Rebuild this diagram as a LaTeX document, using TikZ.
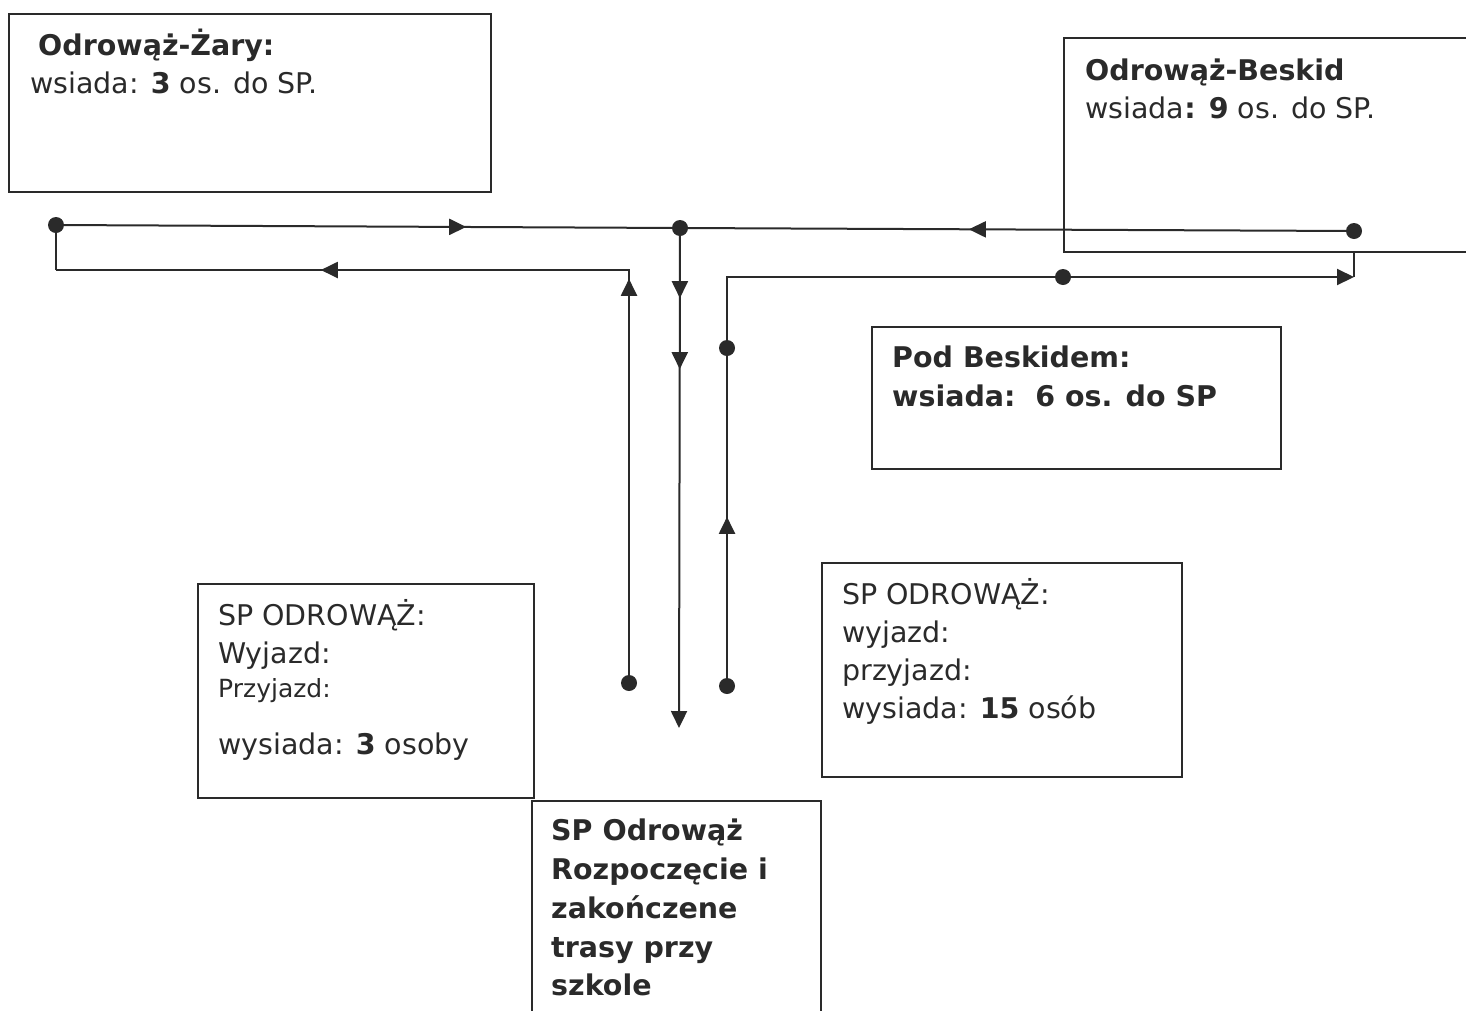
\documentclass[tikz,border=0pt]{standalone}
\usepackage{fontspec}
\setmainfont{DejaVu Sans}
\usetikzlibrary{arrows.meta,decorations.markings,calc}
\definecolor{ink}{HTML}{2A2A2A}
\tikzset{
  box/.style={draw=ink, line width=1.6pt, rectangle, inner sep=0pt, anchor=north west},
  txt/.style={anchor=base west, inner sep=0pt, text=ink, font=\fontsize{28.5}{34}\selectfont},
  smalltxt/.style={txt, font=\fontsize{25}{30}\selectfont},
  dot/.style={circle, fill=ink, inner sep=0pt, minimum size=16pt},
  route/.style={draw=ink, line width=2pt},
  tri/.tip={Triangle[length=17pt,width=16pt]},
  arrowat/.style={postaction={decorate}, decoration={markings, mark=at position #1 with {\arrow{tri}}}},
  arrowsat/.style 2 args={postaction={decorate}, decoration={markings, mark=at position #1 with {\arrow{tri}}, mark=at position #2 with {\arrow{tri}}}}
}
\begin{document}
\begin{tikzpicture}[x=1pt,y=-1pt]
\useasboundingbox (0,0) rectangle (1466,1010);
\clip (0,0) rectangle (1466,1010);

% boxes
\node[box, minimum width=482pt, minimum height=178pt] (zary) at (8,13) {};
\node[box, minimum width=420pt, minimum height=214pt] (beskid) at (1063,37) {};
\node[box, minimum width=409pt, minimum height=142pt] (pod) at (871,326) {};
\node[box, minimum width=336pt, minimum height=214pt] (spl) at (197,583) {};
\node[box, minimum width=360pt, minimum height=214pt] (spr) at (821,562) {};
\node[box, minimum width=289pt, minimum height=240pt] (szk) at (531,800) {};

% texts
\node[txt] (zary1) at (38,55) {\textbf{Odrowąż-Żary:}};
\node[txt] (zary2) at (30,93) {wsiada: \textbf{3} os. do SP.};

\node[txt] (besk1) at (1085,80) {\textbf{Odrowąż-Beskid}};
\node[txt] (besk2) at (1085,118) {wsiada\textbf{: 9} os. do SP.};

\node[txt] (pod1) at (892,367) {\textbf{Pod Beskidem:}};
\node[txt] (pod2) at (892,406) {\textbf{wsiada:\ \ 6 os. do SP}};

\node[txt] (spl1) at (218,625) {SP ODROWĄŻ:};
\node[txt] (spl2) at (218,663) {Wyjazd:};
\node[smalltxt] (spl3) at (218,697) {Przyjazd:};
\node[txt] (spl4) at (218,754) {wysiada: \textbf{3} osoby};

\node[txt] (spr1) at (842,604) {SP ODROWĄŻ:};
\node[txt] (spr2) at (842,642) {wyjazd:};
\node[txt] (spr3) at (842,680) {przyjazd:};
\node[txt] (spr4) at (842,718) {wysiada: \textbf{15} osób};

\node[txt] (szk1) at (551,840) {\textbf{SP Odrowąż}};
\node[txt] (szk2) at (551,879) {\textbf{Rozpoczęcie i}};
\node[txt] (szk3) at (551,918) {\textbf{zakończene}};
\node[txt] (szk4) at (551,957) {\textbf{trasy przy}};
\node[txt] (szk5) at (551,995) {\textbf{szkole}};

% dots
\node[dot] (A) at (56,225) {};
\node[dot] (B) at (680,228) {};
\node[dot] (C) at (1354,231) {};
\node[dot] (D) at (629,683) {};
\node[dot] (E) at (727,686) {};
\node[dot] (F) at (727,348) {};
\node[dot] (G) at (1063,277) {};
\coordinate (lc) at (56,270);
\coordinate (down) at (679,728);
\coordinate (rc) at (1354,277);
\coordinate (rt) at (1354,251);

% routes
\draw[route, arrowat=402pt] (A) -- (B);
\draw[route, arrowat=377pt] (C) -- (B);
\draw[route, -tri, arrowsat={62pt}{133pt}] (B) -- (down);
\draw[route, arrowsat={396pt}{713pt}] (D) |- (lc);
\draw[route] (lc) -- (A);
\draw[route, arrowat=161pt] (E) -- (F);
\draw[route] (F) |- (G);
\draw[route, -tri] (G) -- (rc);
\draw[route] (rc) -- (rt);
\end{tikzpicture}
\end{document}
